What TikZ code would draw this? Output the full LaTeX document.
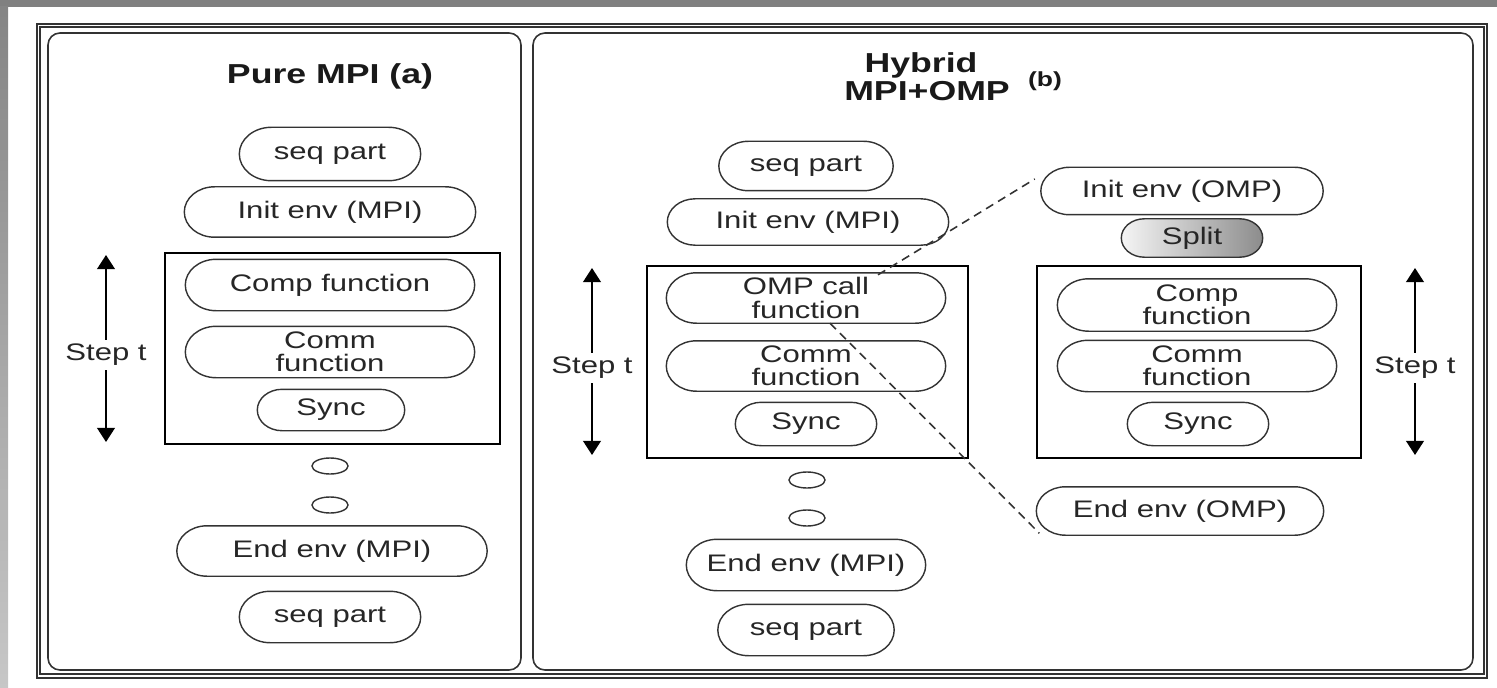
\documentclass[tikz,border=0pt]{standalone}
\usepackage{fontspec}
\setmainfont{Liberation Sans}[FakeStretch=1.3]
\usetikzlibrary{arrows.meta,calc,backgrounds}

\begin{document}
\begin{tikzpicture}[x=0.01cm, y=-0.01cm,
        txt/.style={font=\fontsize{6.8}{6.6}\selectfont, text=black!85},
        title/.style={font=\fontsize{7.8}{9}\selectfont\bfseries, text=black!90, inner sep=0pt},
        pill/.style 2 args={txt, align=center, inner sep=0pt,
            minimum width=#1*0.01cm, minimum height=#2*0.01cm},
        pillline/.style={draw=black!80, line width=0.4pt},
        frame/.style={draw=black!80, line width=0.45pt},
        loopbox/.style={draw=black, line width=0.6pt},
        steplabel/.style={txt, inner sep=1pt},
        steparrow/.style={line width=0.6pt, -{Triangle[width=5pt,length=4pt]}},
        zoomline/.style={draw=black!80, line width=0.45pt, dash pattern=on 2.4pt off 1.6pt}]

        \useasboundingbox (0,0) rectangle (1497,688);

        % grey edge of the slide
        \fill[black!50] (0,0) rectangle (1497,7);
        \shade[top color=black!48, bottom color=black!22] (0,7) rectangle (8,688);

        % frame and the two panels
        \draw[frame] (37,24) rectangle (1487,678);
        \draw[frame] (40,27) rectangle (1484,674);
        \draw[frame, rounded corners=3.4pt] (48,33) rectangle (521,670);
        \draw[frame, rounded corners=3.4pt] (533,33) rectangle (1473,670);

        % pure MPI

        \node[title] (titlea) at (330,76) {Pure MPI (a)};

        \node[pill={180}{52}] (aseq) at (330,154) {seq part};
        \node[pill={290}{49}] (ainit) at (330,212) {Init env (MPI)};

        \draw[loopbox] (165,253) rectangle (500,444);
        \node[pill={288}{50}] (acomp) at (330,285) {Comp function};
        \node[pill={288}{50}] (acomm) at (330,352) {Comm\\function};
        \node[pill={146}{40}] (async) at (331,410) {Sync};

        \draw[pillline] (330,466) ellipse [x radius=18, y radius=8];
        \draw[pillline] (330,505) ellipse [x radius=18, y radius=8];

        \node[pill={309}{49}] (aend) at (332,551) {End env (MPI)};
        \node[pill={180}{50}] (aseqend) at (330,617) {seq part};

        \node[steplabel] (astep) at (106,355) {Step t};
        \coordinate (atop) at (106,255);
        \coordinate (abot) at (106,442);
        \draw[steparrow] (astep) -- (atop);
        \draw[steparrow] (astep) -- (abot);

        % hybrid MPI+OMP

        \node[title] (titleb) at (921,65) {Hybrid};
        \node[title] (titlebb) at (927,91) {MPI+OMP};
        \node[title, font=\fontsize{5.8}{7}\selectfont\bfseries] (tagb) at (1045,81) {(b)};

        \node[pill={173}{48}] (bseq) at (806,166) {seq part};
        \node[pill={280}{45}] (binit) at (808,222) {Init env (MPI)};

        \draw[loopbox] (647,266) rectangle (968,458);
        \node[pill={278}{49}] (bomp) at (806,298) {OMP call\\function};
        \node[pill={278}{49}] (bcomm) at (806,366) {Comm\\function};
        \node[pill={140}{42}] (bsync) at (806,424) {Sync};

        \draw[pillline] (807,480) ellipse [x radius=18, y radius=8];
        \draw[pillline] (807,518) ellipse [x radius=18, y radius=8];

        \node[pill={238}{50}] (bend) at (806,565) {End env (MPI)};
        \node[pill={175}{50}] (bseqend) at (806,630) {seq part};

        \node[steplabel] (bstep) at (592,368) {Step t};
        \coordinate (btop) at (592,268);
        \coordinate (bbot) at (592,455);
        \draw[steparrow] (bstep) -- (btop);
        \draw[steparrow] (bstep) -- (bbot);

        % inside the OMP call

        \node[pill={281}{46}] (cinit) at (1182,191) {Init env (OMP)};
        \node[pill={140}{37}] (csplit) at (1192,238) {Split};

        \draw[loopbox] (1037,266) rectangle (1361,458);
        \node[pill={278}{51}] (ccomp) at (1197,305) {Comp\\function};
        \node[pill={278}{50}] (ccomm) at (1197,366) {Comm\\function};
        \node[pill={140}{42}] (csync) at (1198,424) {Sync};

        \node[pill={286}{47}] (cend) at (1180,511) {End env (OMP)};

        \node[steplabel] (cstep) at (1415,368) {Step t};
        \coordinate (ctop) at (1415,268);
        \coordinate (cbot) at (1415,455);
        \draw[steparrow] (cstep) -- (ctop);
        \draw[steparrow] (cstep) -- (cbot);

        % zoom lines
        \draw[zoomline] ($(bomp.north)+(72,2)$) -- ($(cinit.west)+(-6,-12)$);
        \draw[zoomline] ($(bomp.south)+(24,0)$) -- ($(cend.south west)+(3,-2)$);

        % pill outlines, behind the text
        \begin{scope}[on background layer]
            \shade[pillline, left color=black!4, right color=black!45]
                let \p1=(csplit.north east), \p2=(csplit.south west),
                    \n1={(\y1-\y2)/2}, \n2={1.2*\n1} in
                (\x1-\n2,\y1) arc[start angle=90, end angle=-90, x radius=\n2, y radius=\n1]
                -- (\x2+\n2,\y2) arc[start angle=270, end angle=90, x radius=\n2, y radius=\n1] -- cycle;
            \foreach \nd in {aseq,ainit,acomp,acomm,async,aend,aseqend,
                    bseq,binit,bomp,bcomm,bsync,bend,bseqend,
                    cinit,ccomp,ccomm,csync,cend}
                \draw[pillline]
                    let \p1=(\nd.north east), \p2=(\nd.south west),
                        \n1={(\y1-\y2)/2}, \n2={1.2*\n1} in
                    (\x1-\n2,\y1) arc[start angle=90, end angle=-90, x radius=\n2, y radius=\n1]
                    -- (\x2+\n2,\y2) arc[start angle=270, end angle=90, x radius=\n2, y radius=\n1] -- cycle;
        \end{scope}

    \end{tikzpicture}
\end{document}
